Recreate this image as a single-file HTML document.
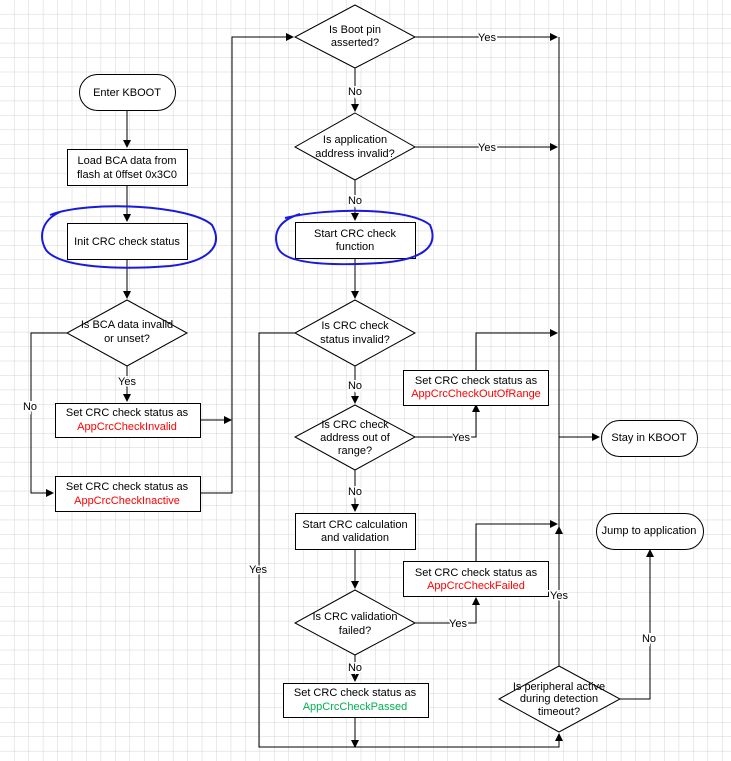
<!DOCTYPE html><html><head><style>body{margin:0;background:#fff}svg{display:block}text{font-family:"Liberation Sans",Arial,sans-serif;font-size:11px;text-anchor:middle}</style></head><body>
<svg width="731" height="761" xmlns="http://www.w3.org/2000/svg">
<defs>
<pattern id="g" width="14.45" height="14.45" patternUnits="userSpaceOnUse" x="-0.5" y="-0.5"><path d="M0 0H14.45M0 0V14.45" stroke="#d4d4d4" stroke-width="1" fill="none"/></pattern>
<marker id="a" markerWidth="8" markerHeight="8" refX="7" refY="4" orient="auto" markerUnits="userSpaceOnUse"><path d="M0 0L8 4L0 8z" fill="#000"/></marker>
</defs>
<rect width="731" height="761" fill="url(#g)"/>
<g stroke="#000" stroke-width="1" fill="none">
<path d="M127 110V147" marker-end="url(#a)"/>
<path d="M127 185V221" marker-end="url(#a)"/>
<path d="M127 259V298" marker-end="url(#a)"/>
<path d="M127 366V401" marker-end="url(#a)"/>
<path d="M67 333H31V493H53" marker-end="url(#a)"/>
<path d="M200 420H231" marker-end="url(#a)"/>
<path d="M200 493H232V37H293" marker-end="url(#a)"/>
<path d="M415 37H557" marker-end="url(#a)"/>
<path d="M355 68V111" marker-end="url(#a)"/>
<path d="M415 147H557" marker-end="url(#a)"/>
<path d="M355 180V220" marker-end="url(#a)"/>
<path d="M355 258V298" marker-end="url(#a)"/>
<path d="M295 333H259V747H559V735"/>
<path d="M559 742V734" marker-end="url(#a)"/>
<path d="M355 366V403" marker-end="url(#a)"/>
<path d="M415 437H476V405" marker-end="url(#a)"/>
<path d="M476 370V333H557" marker-end="url(#a)"/>
<path d="M355 470V511" marker-end="url(#a)"/>
<path d="M355 549V588" marker-end="url(#a)"/>
<path d="M415 623H476V598" marker-end="url(#a)"/>
<path d="M476 561V524H557" marker-end="url(#a)"/>
<path d="M355 655V681" marker-end="url(#a)"/>
<path d="M355 717V747" marker-end="url(#a)"/>
<path d="M559 666V37"/>
<path d="M559 600V527" marker-end="url(#a)"/>
<path d="M559 437H599" marker-end="url(#a)"/>
<path d="M620 699H650V550" marker-end="url(#a)"/>
</g>
<g stroke="#000" fill="#fff">
<rect x="79.5" y="74.5" width="96" height="36" rx="18"/>
<rect x="67.5" y="149.5" width="120" height="36"/>
<rect x="67.5" y="223.5" width="120" height="36"/>
<path d="M127 300L187 333L127 366L67 333Z"/>
<rect x="55.5" y="403.5" width="145" height="34"/>
<rect x="55.5" y="476.5" width="145" height="35"/>
<path d="M355 5L415 37L355 68L295 37Z"/>
<path d="M355 113L415 147L355 180L295 147Z"/>
<rect x="295.5" y="222.5" width="120" height="36"/>
<path d="M355 300L415 333L355 366L295 333Z"/>
<path d="M355 405L415 437L355 470L295 437Z"/>
<rect x="403.5" y="370.5" width="145" height="35"/>
<rect x="295.5" y="513.5" width="120" height="36"/>
<path d="M355 590L415 623L355 655L295 623Z"/>
<rect x="403.5" y="561.5" width="145" height="35"/>
<rect x="283.5" y="683.5" width="145" height="34"/>
<path d="M559 666L620 699L559 732L499 699Z"/>
<rect x="601.5" y="420.5" width="96" height="36" rx="18"/>
<rect x="596.5" y="513.5" width="107" height="36" rx="18"/>
</g>
<g fill="none" stroke="#1a1adc" stroke-width="2">
<path d="M50 215C90 200 190 205 212 225C225 248 205 262 170 266C120 270 60 268 46 250C38 236 42 220 60 212"/>
<path d="M285 218C330 207 410 208 430 225C440 248 420 260 380 263C330 266 285 264 278 248C272 232 280 220 300 214"/>
</g>
<g fill="#000">
<text x="127" y="96">Enter KBOOT</text>
<text x="127" y="164">Load BCA data from</text><text x="127" y="178">flash at 0ffset 0x3C0</text>
<text x="127" y="245">Init CRC check status</text>
<text x="127" y="328">Is BCA data invalid</text><text x="127" y="342">or unset?</text>
<text x="127" y="385" style="paint-order:stroke" stroke="#fff" stroke-width="3">Yes</text>
<text x="30" y="410" style="paint-order:stroke" stroke="#fff" stroke-width="3">No</text>
<text x="127" y="416">Set CRC check status as</text><text x="127" y="430" fill="#f00">AppCrcCheckInvalid</text>
<text x="127" y="490">Set CRC check status as</text><text x="127" y="504" fill="#f00">AppCrcCheckInactive</text>
<text x="355" y="33">Is Boot pin</text><text x="355" y="46">asserted?</text>
<text x="487" y="41" style="paint-order:stroke" stroke="#fff" stroke-width="3">Yes</text>
<text x="355" y="95" style="paint-order:stroke" stroke="#fff" stroke-width="3">No</text>
<text x="355" y="143">Is application</text><text x="355" y="157">address invalid?</text>
<text x="487" y="151" style="paint-order:stroke" stroke="#fff" stroke-width="3">Yes</text>
<text x="355" y="204" style="paint-order:stroke" stroke="#fff" stroke-width="3">No</text>
<text x="355" y="237">Start CRC check</text><text x="355" y="250">function</text>
<text x="355" y="329">Is CRC check</text><text x="355" y="343">status invalid?</text>
<text x="355" y="389" style="paint-order:stroke" stroke="#fff" stroke-width="3">No</text>
<text x="476" y="384">Set CRC check status as</text><text x="476" y="397" fill="#f00">AppCrcCheckOutOfRange</text>
<text x="355" y="428">Is CRC check</text><text x="355" y="441">address out of</text><text x="355" y="454">range?</text>
<text x="461" y="441" style="paint-order:stroke" stroke="#fff" stroke-width="3">Yes</text>
<text x="355" y="495" style="paint-order:stroke" stroke="#fff" stroke-width="3">No</text>
<text x="355" y="528">Start CRC calculation</text><text x="355" y="541">and validation</text>
<text x="476" y="576">Set CRC check status as</text><text x="476" y="589" fill="#f00">AppCrcCheckFailed</text>
<text x="258" y="573" style="paint-order:stroke" stroke="#fff" stroke-width="3">Yes</text>
<text x="355" y="620">Is CRC validation</text><text x="355" y="634">failed?</text>
<text x="458" y="627" style="paint-order:stroke" stroke="#fff" stroke-width="3">Yes</text>
<text x="355" y="671" style="paint-order:stroke" stroke="#fff" stroke-width="3">No</text>
<text x="355" y="696">Set CRC check status as</text><text x="355" y="710" fill="#00b050">AppCrcCheckPassed</text>
<text x="649" y="441">Stay in KBOOT</text>
<text x="649" y="534">Jump to application</text>
<text x="559" y="599" style="paint-order:stroke" stroke="#fff" stroke-width="3">Yes</text>
<text x="649" y="642" style="paint-order:stroke" stroke="#fff" stroke-width="3">No</text>
<text x="559" y="690">Is peripheral active</text><text x="559" y="702">during detection</text><text x="559" y="715">timeout?</text>
</g>
</svg></body></html>
